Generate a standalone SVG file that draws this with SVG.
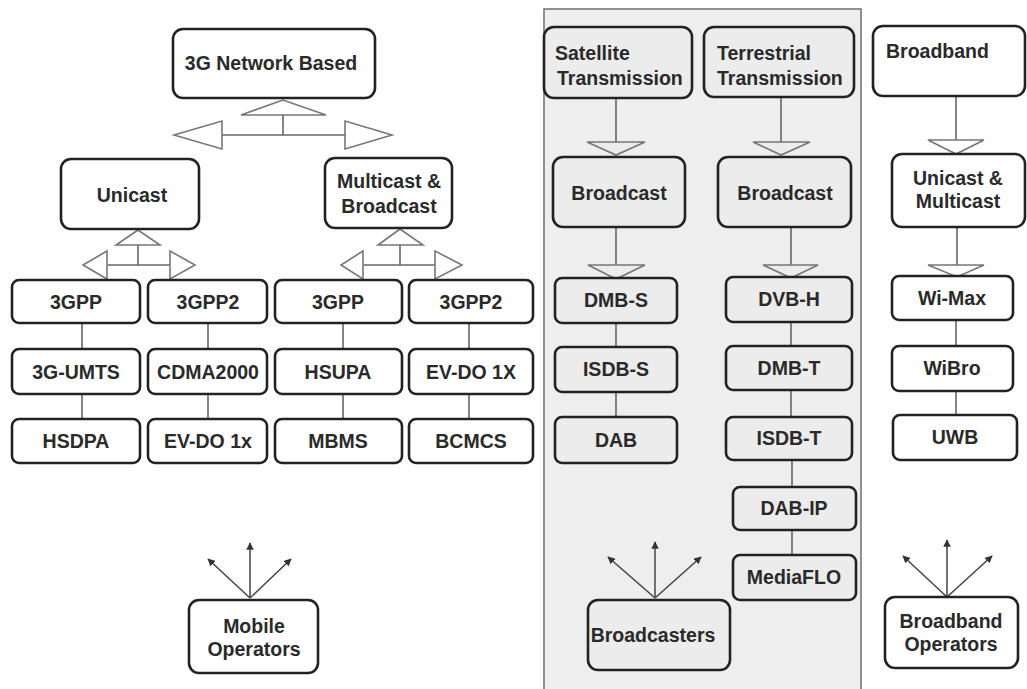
<svg xmlns="http://www.w3.org/2000/svg" width="1027" height="689" viewBox="0 0 1027 689">
<defs>
<style>
.box{fill:#ffffff;stroke:#222;stroke-width:2.6}
.pbox{fill:#ececec;stroke:#222;stroke-width:2.6}
.t{font-family:"Liberation Sans",Arial,sans-serif;font-weight:bold;font-size:19.5px;fill:#2a2a2a;text-anchor:middle}
.tl{font-family:"Liberation Sans",Arial,sans-serif;font-weight:bold;font-size:19.5px;fill:#2a2a2a;text-anchor:start}
.ln{stroke:#666;stroke-width:1.6;fill:none}
.tri{fill:#ffffff;stroke:#777;stroke-width:1.6}
.ptri{fill:#ececec;stroke:#777;stroke-width:1.6}
.arr{stroke:#444;stroke-width:1.5;fill:none;marker-end:url(#ah)}
</style>
<marker id="ah" viewBox="0 0 10 10" refX="9" refY="5" markerWidth="5" markerHeight="5" orient="auto" markerUnits="strokeWidth">
<path d="M0,0 L10,5 L0,10 z" fill="#333"/>
</marker>
</defs>
<rect width="1027" height="689" fill="#ffffff"/>
<rect id="panel" x="544" y="9" width="317" height="690" fill="#eeeeee" stroke="#777" stroke-width="1.6"/>

<g id="connectors">
<!-- 3G network tree -->
<polygon class="tri" points="283,100 241,115 326,115"/>
<line class="ln" x1="283" y1="115" x2="283" y2="135"/>
<line class="ln" x1="222" y1="135" x2="345" y2="135"/>
<polygon class="tri" points="222,121 222,149 174,135"/>
<polygon class="tri" points="345,121 345,149 392,135"/>
<!-- unicast -->
<polygon class="tri" points="138,230 116,245 160,245"/>
<line class="ln" x1="138" y1="245" x2="138" y2="265"/>
<line class="ln" x1="107" y1="265" x2="170" y2="265"/>
<polygon class="tri" points="107,251 107,279 83,265"/>
<polygon class="tri" points="170,251 170,279 195,265"/>
<!-- multicast -->
<polygon class="tri" points="400,229 378,245 423,245"/>
<line class="ln" x1="400" y1="245" x2="400" y2="265"/>
<line class="ln" x1="363" y1="265" x2="435" y2="265"/>
<polygon class="tri" points="363,251 363,279 341,265"/>
<polygon class="tri" points="435,251 435,279 462,265"/>
<!-- columns left -->
<line class="ln" x1="82" y1="323" x2="82" y2="349"/>
<line class="ln" x1="82" y1="394" x2="82" y2="419"/>
<line class="ln" x1="208" y1="323" x2="208" y2="349"/>
<line class="ln" x1="208" y1="394" x2="208" y2="419"/>
<line class="ln" x1="343" y1="323" x2="343" y2="349"/>
<line class="ln" x1="343" y1="394" x2="343" y2="419"/>
<line class="ln" x1="469" y1="323" x2="469" y2="349"/>
<line class="ln" x1="469" y1="394" x2="469" y2="419"/>
<!-- satellite -->
<line class="ln" x1="616" y1="98" x2="616" y2="142"/>
<polygon class="ptri" points="587,142 645,142 616,155"/>
<line class="ln" x1="616" y1="227" x2="616" y2="265"/>
<polygon class="ptri" points="588,265 645,265 616,279"/>
<line class="ln" x1="616" y1="323" x2="616" y2="347"/>
<line class="ln" x1="616" y1="392" x2="616" y2="417"/>
<!-- terrestrial -->
<line class="ln" x1="781" y1="97" x2="781" y2="142"/>
<polygon class="ptri" points="753,142 810,142 781,155"/>
<line class="ln" x1="791" y1="227" x2="791" y2="265"/>
<polygon class="ptri" points="763,265 818,265 791,278"/>
<line class="ln" x1="791" y1="322" x2="791" y2="346"/>
<line class="ln" x1="791" y1="390" x2="791" y2="417"/>
<line class="ln" x1="792" y1="460" x2="792" y2="487"/>
<line class="ln" x1="792" y1="530" x2="792" y2="555"/>
<!-- broadband -->
<line class="ln" x1="956" y1="96" x2="956" y2="140"/>
<polygon class="tri" points="928,140 984,140 956,154"/>
<line class="ln" x1="957" y1="227" x2="957" y2="265"/>
<polygon class="tri" points="928,265 984,265 957,277"/>
<line class="ln" x1="956" y1="320" x2="956" y2="346"/>
<line class="ln" x1="956" y1="391" x2="956" y2="415"/>
<!-- operator arrows -->
<line class="arr" x1="250" y1="598" x2="250" y2="543"/>
<line class="arr" x1="250" y1="598" x2="208" y2="559"/>
<line class="arr" x1="250" y1="598" x2="291" y2="559"/>
<line class="arr" x1="655" y1="598" x2="655" y2="542"/>
<line class="arr" x1="655" y1="598" x2="608" y2="557"/>
<line class="arr" x1="655" y1="598" x2="701" y2="557"/>
<line class="arr" x1="947" y1="597" x2="947" y2="540"/>
<line class="arr" x1="947" y1="597" x2="903" y2="556"/>
<line class="arr" x1="947" y1="597" x2="992" y2="556"/>
</g>

<g id="n3g"><rect class="box" x="173" y="29" width="202" height="69" rx="10"/><text class="t" x="271" y="70">3G Network Based</text></g>
<g id="nunicast"><rect class="box" x="61" y="159" width="138" height="70" rx="10"/><text class="t" x="132" y="202">Unicast</text></g>
<g id="nmulticast"><rect class="box" x="325" y="158" width="127" height="70" rx="10"/><text class="t" x="389" y="188">Multicast &amp;</text><text class="t" x="389" y="213">Broadcast</text></g>

<g id="n3gpp1"><rect class="box" x="12" y="280" width="128" height="43" rx="7"/><text class="t" x="76" y="309">3GPP</text></g>
<g id="n3gpp2a"><rect class="box" x="148" y="280" width="119" height="43" rx="7"/><text class="t" x="208" y="309">3GPP2</text></g>
<g id="n3gpp1b"><rect class="box" x="275" y="280" width="127" height="43" rx="7"/><text class="t" x="338" y="309">3GPP</text></g>
<g id="n3gpp2b"><rect class="box" x="409" y="280" width="124" height="43" rx="7"/><text class="t" x="471" y="309">3GPP2</text></g>

<g id="numts"><rect class="box" x="12" y="349" width="128" height="45" rx="7"/><text class="t" x="76" y="379">3G-UMTS</text></g>
<g id="ncdma"><rect class="box" x="148" y="349" width="119" height="45" rx="7"/><text class="t" x="208" y="379">CDMA2000</text></g>
<g id="nhsupa"><rect class="box" x="275" y="349" width="127" height="45" rx="7"/><text class="t" x="338" y="379">HSUPA</text></g>
<g id="nevdo1X"><rect class="box" x="409" y="349" width="124" height="45" rx="7"/><text class="t" x="471" y="379">EV-DO 1X</text></g>

<g id="nhsdpa"><rect class="box" x="12" y="419" width="128" height="44" rx="7"/><text class="t" x="76" y="448">HSDPA</text></g>
<g id="nevdo1x"><rect class="box" x="148" y="419" width="119" height="44" rx="7"/><text class="t" x="208" y="448">EV-DO 1x</text></g>
<g id="nmbms"><rect class="box" x="275" y="419" width="127" height="44" rx="7"/><text class="t" x="338" y="448">MBMS</text></g>
<g id="nbcmcs"><rect class="box" x="409" y="419" width="124" height="44" rx="7"/><text class="t" x="471" y="448">BCMCS</text></g>

<g id="nmobile"><rect class="box" x="189" y="600" width="129" height="73" rx="10"/><text class="t" x="254" y="633">Mobile</text><text class="t" x="254" y="656">Operators</text></g>

<g id="nsat"><rect class="pbox" x="544" y="27" width="148" height="71" rx="10"/><text class="tl" x="555" y="60">Satellite</text><text class="tl" x="557" y="85">Transmission</text></g>
<g id="nterr"><rect class="pbox" x="704" y="27" width="150" height="70" rx="10"/><text class="tl" x="717" y="60">Terrestrial</text><text class="tl" x="717" y="85">Transmission</text></g>
<g id="nbroadband"><rect class="box" x="873" y="26" width="152" height="70" rx="10"/><text class="tl" x="886" y="58">Broadband</text></g>

<g id="nbc1"><rect class="pbox" x="553" y="157" width="132" height="70" rx="10"/><text class="t" x="619" y="200">Broadcast</text></g>
<g id="nbc2"><rect class="pbox" x="718" y="157" width="133" height="70" rx="10"/><text class="t" x="785" y="200">Broadcast</text></g>
<g id="nunimulti"><rect class="box" x="892" y="154" width="133" height="73" rx="10"/><text class="t" x="958" y="185">Unicast &amp;</text><text class="t" x="958" y="208">Multicast</text></g>

<g id="ndmbs"><rect class="pbox" x="555" y="278" width="122" height="45" rx="7"/><text class="t" x="616" y="307">DMB-S</text></g>
<g id="nisdbs"><rect class="pbox" x="555" y="347" width="122" height="45" rx="7"/><text class="t" x="616" y="376">ISDB-S</text></g>
<g id="ndab"><rect class="pbox" x="555" y="417" width="122" height="46" rx="7"/><text class="t" x="616" y="447">DAB</text></g>

<g id="ndvbh"><rect class="pbox" x="726" y="277" width="126" height="45" rx="7"/><text class="t" x="789" y="306">DVB-H</text></g>
<g id="ndmbt"><rect class="pbox" x="726" y="346" width="126" height="44" rx="7"/><text class="t" x="789" y="375">DMB-T</text></g>
<g id="nisdbt"><rect class="pbox" x="726" y="417" width="126" height="43" rx="7"/><text class="t" x="789" y="445">ISDB-T</text></g>
<g id="ndabip"><rect class="pbox" x="733" y="487" width="123" height="43" rx="7"/><text class="t" x="794" y="515">DAB-IP</text></g>
<g id="nmediaflo"><rect class="pbox" x="733" y="555" width="123" height="45" rx="7"/><text class="t" x="794" y="584">MediaFLO</text></g>

<g id="nwimax"><rect class="box" x="892" y="276" width="121" height="44" rx="7"/><text class="t" x="952" y="305">Wi-Max</text></g>
<g id="nwibro"><rect class="box" x="892" y="346" width="121" height="45" rx="7"/><text class="t" x="952" y="375">WiBro</text></g>
<g id="nuwb"><rect class="box" x="893" y="415" width="124" height="45" rx="7"/><text class="t" x="955" y="444">UWB</text></g>

<g id="nbroadcasters"><rect class="pbox" x="588" y="600" width="142" height="70" rx="10"/><text class="t" x="653" y="642">Broadcasters</text></g>
<g id="nbbops"><rect class="box" x="885" y="597" width="133" height="71" rx="10"/><text class="t" x="951" y="628">Broadband</text><text class="t" x="951" y="651">Operators</text></g>
</svg>
